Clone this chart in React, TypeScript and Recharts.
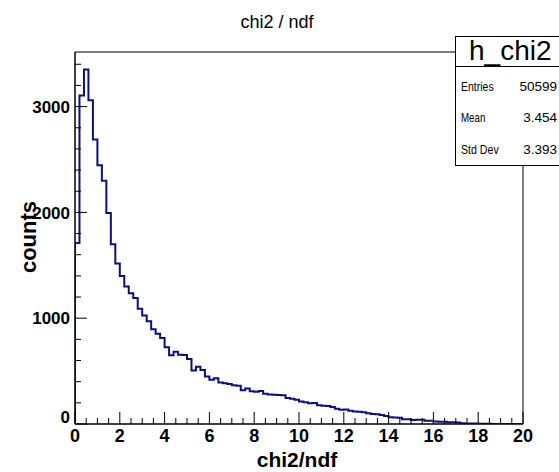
import React from 'react';
import { ComposedChart, Line, XAxis, YAxis, ReferenceArea } from 'recharts';

// h_chi2 histogram: 100 bins of width 0.2 from 0 to 20
const BIN_COUNTS = [
  1710, 3105, 3350, 3060, 2690, 2445, 2300, 1995, 1700, 1517,
  1398, 1300, 1235, 1190, 1090, 1025, 970, 895, 852, 812,
  725, 650, 683, 655, 652, 615, 505, 540, 510, 450,
  418, 432, 392, 385, 378, 366, 362, 318, 336, 310,
  305, 312, 285, 278, 276, 275, 272, 245, 238, 230,
  212, 205, 196, 198, 178, 172, 170, 160, 145, 134,
  137, 125, 118, 116, 110, 101, 94, 92, 86, 75,
  64, 62, 60, 46, 44, 38, 40, 39, 30, 31,
  24, 22, 21, 16, 17, 15, 6, 5, 4, 4,
  3, 2, 2, 1, 1, 1, 0, 1, 0, 0,
];
const BIN_WIDTH = 0.2;
const X_MIN = 0;
const X_MAX = 20;
const Y_MAX = 3516;
const X_LABELS = [0, 2, 4, 6, 8, 10, 12, 14, 16, 18, 20];
const X_MINOR_STEP = 0.5;
const Y_LABELS = [0, 1000, 2000, 3000];
const Y_MINOR_STEP = 200;
const TITLE = 'chi2 / ndf';
const X_TITLE = 'chi2/ndf';
const Y_TITLE = 'counts';
const HIST_NAME = 'h_chi2';
const STAT_LABELS = ['Entries', 'Mean', 'Std Dev'];
const STAT_VALUES = ['50599', '3.454', '3.393'];

const FONT = '"Liberation Sans", Arial, Helvetica, sans-serif';
const LINE_COLOR = '#0c0f80';

const data = [
  { x: X_MIN, y: 0 },
  ...BIN_COUNTS.map((c, i) => ({ x: +(X_MIN + i * BIN_WIDTH).toFixed(3), y: c })),
  { x: X_MAX, y: BIN_COUNTS[BIN_COUNTS.length - 1] },
  { x: X_MAX, y: 0 },
];

const xTicks: number[] = [];
for (let v = X_MIN; v <= X_MAX + 1e-9; v += X_MINOR_STEP) xTicks.push(+v.toFixed(3));
const yTicks: number[] = [];
for (let v = 0; v <= Y_MAX; v += Y_MINOR_STEP) yTicks.push(v);

const renderXTick = (props: any) => {
  const { x, y, payload, index } = props;
  const v = payload.value;
  const major = X_LABELS.includes(v);
  return (
    <g key={`xt-${index}`}>
      <line x1={x} x2={x} y1={y} y2={y - (major ? 12 : 6)} stroke="#000" strokeWidth={1} />
      {major && (
        <text x={x} y={y + 18} textAnchor="middle" fontSize={18} fontWeight="bold" fontFamily={FONT} fill="#000">
          {v}
        </text>
      )}
    </g>
  );
};

const renderYTick = (props: any) => {
  const { x, y, payload, index } = props;
  const v = payload.value;
  const major = Y_LABELS.includes(v);
  return (
    <g key={`yt-${index}`}>
      <line x1={x} x2={x + (major ? 12 : 6)} y1={y} y2={y} stroke="#000" strokeWidth={1} />
      {major && (
        <text x={x - 5} y={y + (v === 0 ? -7 : 0)} dy="0.36em" textAnchor="end" fontSize={17} fontWeight="bold" fontFamily={FONT} fill="#000">
          {v}
        </text>
      )}
    </g>
  );
};

const LABEL_LEN = [32.7, 24.3, 37.7];
const ROW_Y = [90.5, 122, 154];

export default function App() {
  return (
    <div style={{ position: 'absolute', left: 0, top: 0, width: 559, height: 472, background: '#fff', overflow: 'hidden' }}>
      <ComposedChart
        width={559}
        height={472}
        data={data}
        margin={{ top: 52, right: 36, bottom: 18, left: 15 }}
      >
        <ReferenceArea x1={X_MIN} x2={X_MAX} y1={0} y2={Y_MAX} fill="none" stroke="#000" strokeWidth={1} ifOverflow="visible" />
        <XAxis
          type="number"
          dataKey="x"
          domain={[X_MIN, X_MAX]}
          ticks={xTicks}
          interval={0}
          height={30}
          tickSize={0}
          tickMargin={0}
          axisLine={{ stroke: '#000' }}
          tick={renderXTick}
          tickLine={false}
          allowDataOverflow
        />
        <YAxis
          type="number"
          domain={[0, Y_MAX]}
          ticks={yTicks}
          interval={0}
          width={60}
          tickSize={0}
          tickMargin={0}
          axisLine={{ stroke: '#000' }}
          tick={renderYTick}
          tickLine={false}
          allowDataOverflow
        />
        <Line
          type="stepAfter"
          dataKey="y"
          stroke={LINE_COLOR}
          strokeWidth={2}
          dot={false}
          activeDot={false}
          isAnimationActive={false}
        />
      </ComposedChart>
      <svg width={559} height={472} style={{ position: 'absolute', left: 0, top: 0, pointerEvents: 'none' }}>
        <text x={277} y={28} textAnchor="middle" fontSize={18} fontFamily={FONT} fill="#000">{TITLE}</text>
        <rect x={455.5} y={36.5} width={130} height={129} fill="#fff" stroke="#000" strokeWidth={1} />
        <line x1={455.5} x2={590} y1={66.5} y2={66.5} stroke="#000" strokeWidth={1} />
        <text x={469} y={60} fontSize={28} fontFamily={FONT} fill="#000">{HIST_NAME}</text>
        {STAT_LABELS.map((l, i) => (
          <text key={l} x={461} y={ROW_Y[i]} fontSize={13} fontFamily={FONT} fill="#000" textLength={LABEL_LEN[i]} lengthAdjust="spacingAndGlyphs">{l}</text>
        ))}
        {STAT_VALUES.map((v, i) => (
          <text key={v} x={557} y={ROW_Y[i]} textAnchor="end" fontSize={13.5} fontFamily={FONT} fill="#000">{v}</text>
        ))}
        <text x={297} y={467} textAnchor="middle" fontSize={21} fontWeight="bold" fontFamily={FONT} fill="#000">{X_TITLE}</text>
        <text transform="translate(36,237) rotate(-90)" textAnchor="middle" fontSize={22} fontWeight="bold" fontFamily={FONT} fill="#000">{Y_TITLE}</text>
      </svg>
    </div>
  );
}
